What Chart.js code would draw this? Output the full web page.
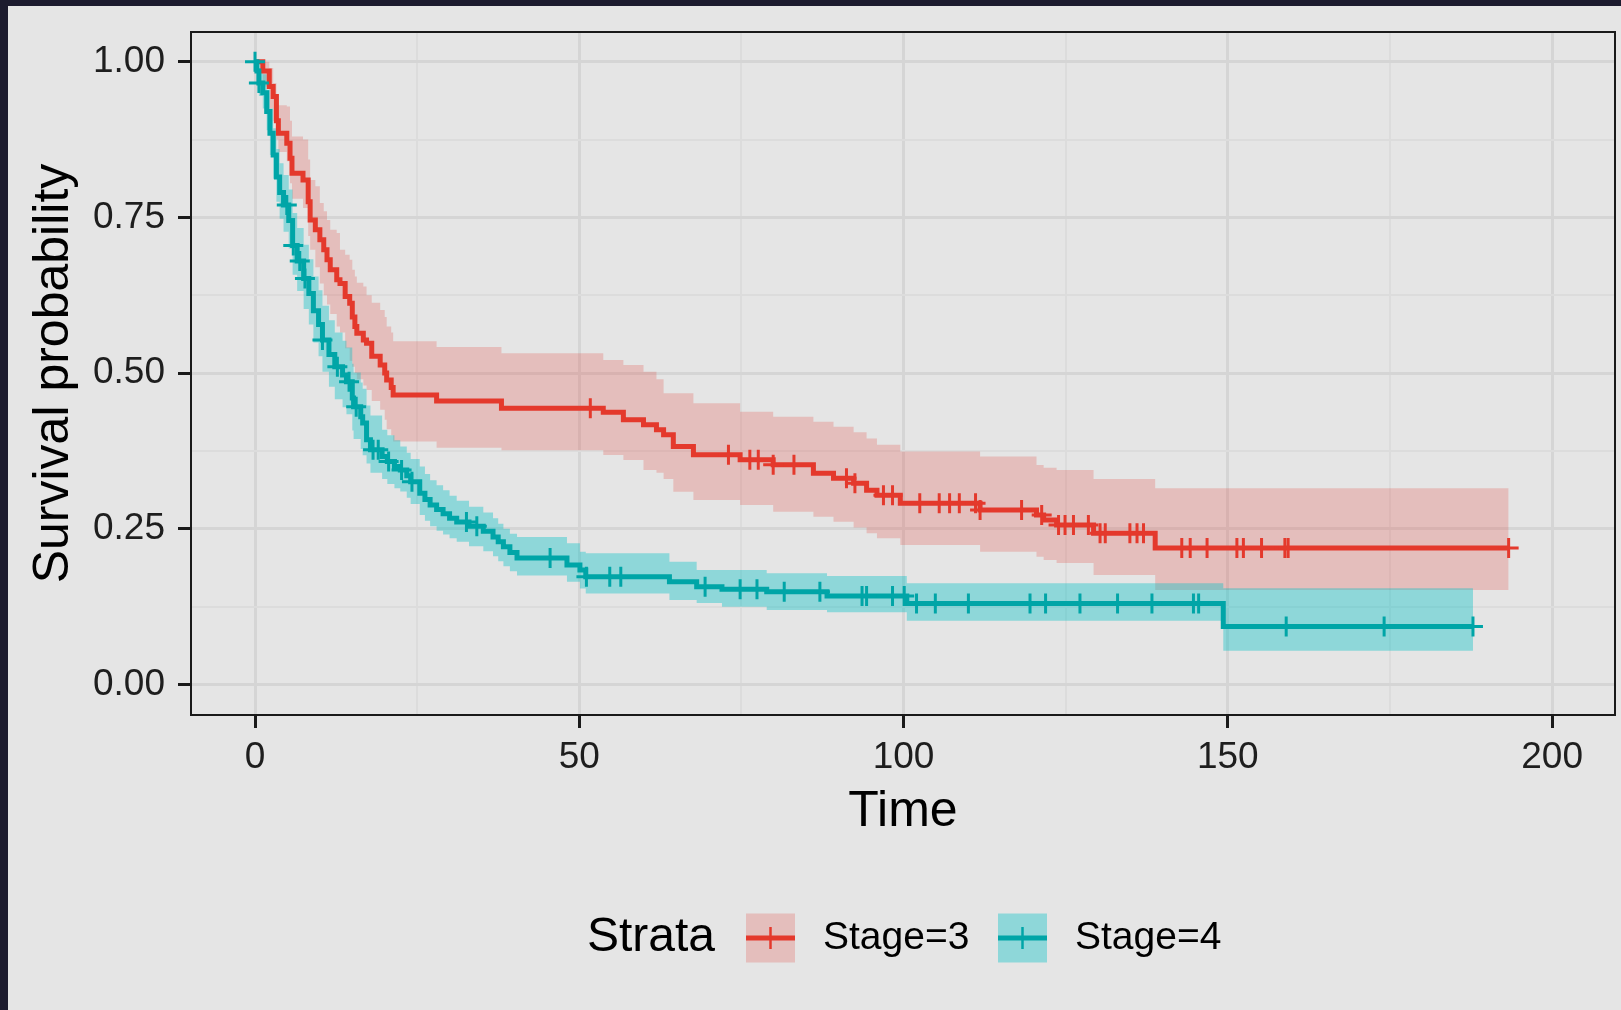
<!DOCTYPE html>
<html>
<head>
<meta charset="utf-8">
<script src="https://cdn.jsdelivr.net/npm/chart.js@4.4.1/dist/chart.umd.min.js"></script>
<style>
  html, body { margin: 0; padding: 0; background: #1c1b2e; overflow: hidden; }
  #wrap { position: absolute; left: 8px; top: 6px; width: 1613px; height: 1004px; background: #e5e5e5; }
</style>
</head>
<body>
<div id="wrap"><canvas id="kmChart"></canvas></div>
<script>
// Kaplan-Meier estimates (time, survival, 95% band)
const stage3Time = [0, 1.2, 2.2, 2.8, 3.3, 3.6, 4.9, 5.4, 5.7, 7.4, 8.2, 8.5, 9.3, 10.0, 10.6, 11.1, 11.6, 12.6, 13.1, 13.9,
  14.6, 15.0, 15.4, 15.7, 16.7, 17.2, 18.0, 19.3, 20.0, 20.3, 21.0, 21.3, 28.0, 38.0, 53.7, 56.8, 59.9, 61.9, 63.0, 64.5,
  67.6, 74.8, 79.9, 86.1, 89.2, 92.3, 94.3, 95.9, 99.5, 111.8, 120.5, 121.6, 123.6, 129.3, 138.8, 193.3];
const stage3Surv = [1.0, 0.985, 0.96, 0.944, 0.905, 0.885, 0.869, 0.845, 0.821, 0.81, 0.775, 0.746, 0.73, 0.714, 0.698, 0.682, 0.666, 0.65, 0.644, 0.623,
  0.612, 0.59, 0.575, 0.564, 0.553, 0.548, 0.527, 0.513, 0.50, 0.489, 0.477, 0.465, 0.455, 0.4436, 0.437, 0.425, 0.417, 0.409, 0.401, 0.382,
  0.369, 0.361, 0.353, 0.339, 0.331, 0.323, 0.312, 0.304, 0.291, 0.28, 0.272, 0.264, 0.256, 0.243, 0.219, 0.219];
const stage3Upper = [1.0, 1.0, 0.99, 0.966, 0.944, 0.93, 0.928, 0.905, 0.88, 0.875, 0.843, 0.81, 0.80, 0.773, 0.76, 0.746, 0.73, 0.725, 0.698, 0.69,
  0.682, 0.666, 0.655, 0.645, 0.639, 0.625, 0.613, 0.6015, 0.59, 0.575, 0.565, 0.551, 0.542, 0.532, 0.521, 0.513, 0.502, 0.49, 0.4677, 0.4677,
  0.4516, 0.438, 0.43, 0.422, 0.414, 0.405, 0.395, 0.385, 0.374, 0.366, 0.3525, 0.348, 0.3445, 0.33, 0.315, 0.315];
const stage3Lower = [1.0, 0.96, 0.925, 0.905, 0.875, 0.855, 0.84, 0.805, 0.78, 0.765, 0.72, 0.698, 0.67, 0.644, 0.625, 0.61, 0.595, 0.575, 0.565, 0.54,
  0.52, 0.51, 0.50, 0.49, 0.48, 0.473, 0.455, 0.441, 0.425, 0.41, 0.40, 0.39, 0.38, 0.376, 0.3686, 0.3605, 0.3445, 0.34, 0.33, 0.3096,
  0.2963, 0.2882, 0.2775, 0.2694, 0.2614, 0.252, 0.2428, 0.235, 0.224, 0.2132, 0.205, 0.1999, 0.195, 0.1758, 0.1517, 0.1517];
const stage3Censor = [51.7, 73.0, 76.3, 77.6, 79.9, 83.1, 91.2, 92.5, 96.9, 98.3, 102.5, 105.5, 107.1, 108.6, 111.1, 111.8, 118.2,
  121.3, 123.9, 124.9, 126.2, 128.5, 130.3, 131.1, 134.9, 136.0, 137.0, 142.9, 144.2, 146.8, 151.4, 152.4, 155.2, 158.8, 159.3, 193.3];

const stage4Time = [0, 0.3, 0.6, 1.2, 1.8, 2.3, 2.8, 3.3, 3.8, 4.4, 5.2, 5.8, 6.5, 7.5, 8.3, 9.0, 9.8, 10.4, 11.4, 12.3,
  13.5, 14.1, 15.0, 15.2, 16.3, 16.6, 17.2, 17.8, 19.6, 20.4, 21.5, 22.4, 23.4, 24.0, 25.4, 26.2, 27.0, 28.0, 29.0, 30.0,
  31.1, 33.0, 35.2, 36.7, 37.5, 38.3, 39.3, 40.4, 48.1, 50.1, 51.0, 63.9, 68.1, 72.0, 78.9, 88.2, 100.5, 149.3, 187.8];
const stage4Surv = [1.0, 0.985, 0.966, 0.95, 0.92, 0.885, 0.85, 0.815, 0.79, 0.77, 0.745, 0.705, 0.68, 0.652, 0.628, 0.60, 0.578, 0.553, 0.53, 0.51,
  0.497, 0.486, 0.46, 0.446, 0.43, 0.42, 0.393, 0.377, 0.366, 0.358, 0.35, 0.3445, 0.335, 0.3257, 0.307, 0.297, 0.288, 0.281, 0.274, 0.267,
  0.261, 0.254, 0.246, 0.237, 0.229, 0.221, 0.212, 0.203, 0.192, 0.184, 0.173, 0.165, 0.157, 0.153, 0.149, 0.142, 0.130, 0.093, 0.093];
const stage4Upper = [1.0, 1.0, 0.99, 0.98, 0.955, 0.925, 0.893, 0.86, 0.837, 0.818, 0.795, 0.757, 0.733, 0.706, 0.683, 0.655, 0.633, 0.608, 0.585, 0.565,
  0.552, 0.541, 0.515, 0.501, 0.485, 0.475, 0.448, 0.432, 0.409, 0.40, 0.392, 0.382, 0.372, 0.362, 0.35, 0.338, 0.328, 0.32, 0.312, 0.303,
  0.295, 0.2855, 0.276, 0.267, 0.258, 0.25, 0.242, 0.237, 0.2267, 0.213, 0.2106, 0.197, 0.184, 0.184, 0.1785, 0.174, 0.1624, 0.1544, 0.1544];
const stage4Lower = [1.0, 0.97, 0.945, 0.925, 0.89, 0.85, 0.812, 0.775, 0.748, 0.727, 0.70, 0.658, 0.632, 0.603, 0.578, 0.549, 0.527, 0.502, 0.478, 0.458,
  0.445, 0.434, 0.408, 0.394, 0.378, 0.368, 0.355, 0.34, 0.33, 0.322, 0.315, 0.31, 0.30, 0.29, 0.272, 0.263, 0.254, 0.247, 0.241, 0.235,
  0.229, 0.222, 0.214, 0.206, 0.198, 0.19, 0.182, 0.175, 0.165, 0.154, 0.146, 0.1356, 0.131, 0.125, 0.1195, 0.1158, 0.1024, 0.054, 0.054];
const stage4Censor = [0, 0.6, 4.9, 5.9, 6.9, 7.7, 10.4, 12.7, 14.5, 15.6, 18.2, 19.0, 20.6, 22.6, 24.2, 32.6, 34.2, 45.5, 51.1,
  54.7, 56.4, 69.4, 74.8, 77.4, 81.6, 87.1, 93.6, 94.3, 98.3, 100.1, 102.0, 104.9, 110.0, 119.5, 121.9, 127.2, 133.0, 138.3,
  144.7, 145.5, 159.0, 174.1, 187.8];

const xMajorTicks = [0, 50, 100, 150, 200];
const xMinorTicks = [25, 75, 125, 175];
const yMajorTicks = [0, 0.25, 0.5, 0.75, 1];
const yMinorTicks = [0.125, 0.375, 0.625, 0.875];

const strataLabels = ["Stage=3", "Stage=4"];
const legendTitle = "Strata";

const FONT = '"Liberation Sans", Arial, sans-serif';
const RED = "#e4392c";
const TEAL = "#00a5a7";
const RED_BAND = "rgba(228, 56, 44, 0.22)";
const TEAL_BAND = "rgba(0, 192, 196, 0.38)";
const GRID_MAJOR = "#d5d5d5";
const GRID_MINOR = "#dcdcdc";

function toPoints(times, values) {
  return times.map((t, i) => ({ x: t, y: values[i] }));
}

// survival value shown at time t (last step at or before t)
function survAt(times, values, t) {
  let v = values[0];
  for (let i = 0; i < times.length; i++) {
    if (times[i] <= t) v = values[i];
  }
  return v;
}

function censorPoints(censor, times, values) {
  return censor.map(t => ({ x: t, y: survAt(times, values, t) }));
}

function isMajor(list, v) {
  return list.some(m => Math.abs(m - v) < 1e-9);
}

function bandSet(label, times, values, color, fill, order) {
  return {
    label, data: toPoints(times, values), stepped: true, fill,
    backgroundColor: color, borderColor: "rgba(0,0,0,0)", borderWidth: 0,
    pointRadius: 0, order
  };
}

function lineSet(label, times, values, color, order) {
  return {
    label, data: toPoints(times, values), stepped: true, fill: false,
    borderColor: color, borderWidth: 5, pointRadius: 0, order
  };
}

function censorSet(label, censor, times, values, color, order) {
  return {
    label, data: censorPoints(censor, times, values), showLine: false,
    pointStyle: "cross", pointRadius: 10, pointBorderWidth: 3,
    pointBorderColor: color, pointBackgroundColor: color, order
  };
}

// ggplot style panel border
const panelBorder = {
  id: "panelBorder",
  afterDatasetsDraw(chart) {
    const { ctx, chartArea: a } = chart;
    ctx.save();
    ctx.strokeStyle = "#1a1a1a";
    ctx.lineWidth = 2;
    ctx.strokeRect(a.left, a.top, a.right - a.left, a.bottom - a.top);
    ctx.restore();
  }
};

// legend: "Strata" + keys with band box, line and censor mark
const strataLegend = {
  id: "strataLegend",
  afterDraw(chart) {
    const ctx = chart.ctx;
    const cy = 932;
    ctx.save();
    ctx.textBaseline = "middle";
    ctx.fillStyle = "#000";
    ctx.font = "48px " + FONT;
    ctx.fillText(legendTitle, 579, cy);

    const keys = [
      { x: 738, text: 815, line: RED, band: RED_BAND },
      { x: 990, text: 1067, line: TEAL, band: TEAL_BAND }
    ];
    keys.forEach((k, i) => {
      const size = 49;
      ctx.fillStyle = k.band;
      ctx.fillRect(k.x, cy - size / 2, size, size);
      ctx.strokeStyle = k.line;
      ctx.lineWidth = 5;
      ctx.beginPath();
      ctx.moveTo(k.x, cy);
      ctx.lineTo(k.x + size, cy);
      ctx.stroke();
      ctx.lineWidth = 2.5;
      ctx.beginPath();
      ctx.moveTo(k.x + size / 2, cy - 11);
      ctx.lineTo(k.x + size / 2, cy + 11);
      ctx.stroke();
      ctx.fillStyle = "#000";
      ctx.font = "39px " + FONT;
      ctx.fillText(strataLabels[i], k.text, cy);
    });
    ctx.restore();
  }
};

function gridOptions(majors) {
  return {
    color: c => (c.tick && isMajor(majors, c.tick.value)) ? GRID_MAJOR : GRID_MINOR,
    lineWidth: c => (c.tick && isMajor(majors, c.tick.value)) ? 3 : 2,
    tickColor: c => (c.tick && isMajor(majors, c.tick.value)) ? "#1a1a1a" : "rgba(0,0,0,0)",
    tickWidth: 3,
    tickLength: 13,
    drawTicks: true
  };
}

const ctx = document.getElementById("kmChart");

new Chart(ctx, {
  type: "line",
  data: {
    datasets: [
      bandSet("Stage=3 upper", stage3Time, stage3Upper, RED_BAND, "+1", 6),
      bandSet("Stage=3 lower", stage3Time, stage3Lower, RED_BAND, false, 6),
      bandSet("Stage=4 upper", stage4Time, stage4Upper, TEAL_BAND, "+1", 5),
      bandSet("Stage=4 lower", stage4Time, stage4Lower, TEAL_BAND, false, 5),
      lineSet(strataLabels[0], stage3Time, stage3Surv, RED, 4),
      censorSet("Stage=3 censor", stage3Censor, stage3Time, stage3Surv, RED, 3),
      lineSet(strataLabels[1], stage4Time, stage4Surv, TEAL, 2),
      censorSet("Stage=4 censor", stage4Censor, stage4Time, stage4Surv, TEAL, 1)
    ]
  },
  options: {
    responsive: true,
    maintainAspectRatio: false,
    animation: false,
    events: [],
    layout: { autoPadding: false, padding: { left: 0, top: 26, right: 6, bottom: 168 } },
    plugins: {
      legend: { display: false },
      tooltip: { enabled: false }
    },
    scales: {
      x: {
        type: "linear",
        min: -9.87,
        max: 209.7,
        afterBuildTicks: s => {
          s.ticks = xMajorTicks.concat(xMinorTicks).sort((a, b) => a - b).map(v => ({ value: v }));
        },
        afterFit: s => {
          s.height = 127;
          s.paddingLeft = 0;
          s.paddingRight = 0;
        },
        grid: gridOptions(xMajorTicks),
        border: { display: false },
        ticks: {
          autoSkip: false,
          maxRotation: 0,
          padding: 8,
          color: "#1e1e1e",
          font: { family: FONT, size: 37 },
          callback: v => isMajor(xMajorTicks, v) ? String(v) : ""
        },
        title: {
          display: true,
          text: "Time",
          color: "#000",
          font: { family: FONT, size: 50 },
          padding: 0
        }
      },
      y: {
        type: "linear",
        min: -0.049,
        max: 1.0477,
        afterBuildTicks: s => {
          s.ticks = yMajorTicks.concat(yMinorTicks).sort((a, b) => a - b).map(v => ({ value: v }));
        },
        afterFit: s => {
          s.width = 183;
          s.paddingTop = 0;
          s.paddingBottom = 0;
        },
        grid: gridOptions(yMajorTicks),
        border: { display: false },
        ticks: {
          autoSkip: false,
          padding: 13,
          color: "#1e1e1e",
          font: { family: FONT, size: 37 },
          callback: v => isMajor(yMajorTicks, v) ? v.toFixed(2) : ""
        },
        title: {
          display: true,
          text: "Survival probability",
          color: "#000",
          font: { family: FONT, size: 50 },
          padding: { top: 16, bottom: 0 }
        }
      }
    }
  },
  plugins: [panelBorder, strataLegend]
});
</script>
</body>
</html>
